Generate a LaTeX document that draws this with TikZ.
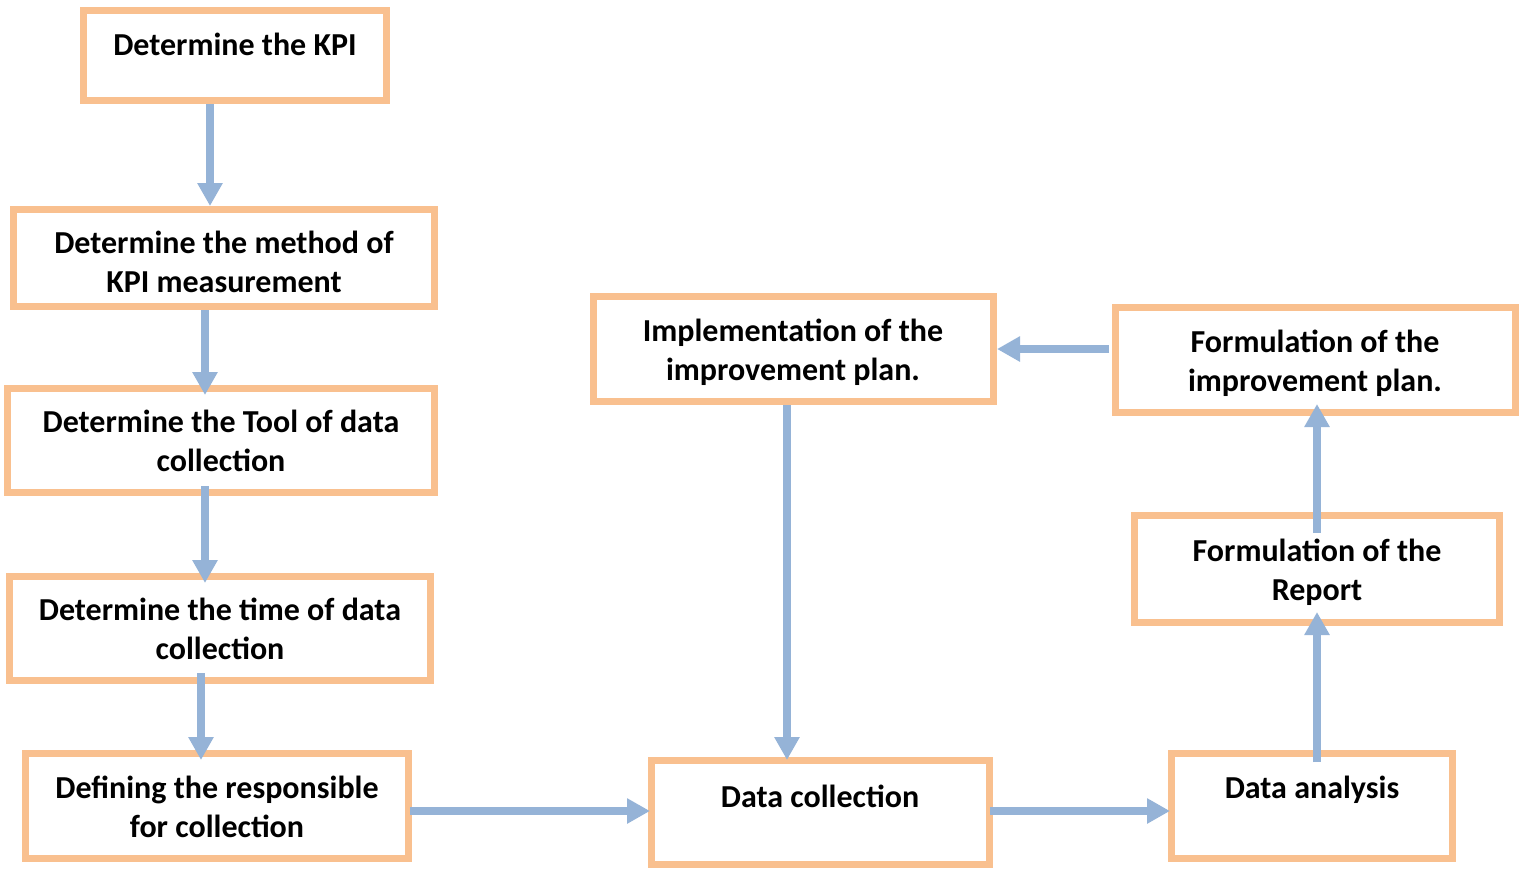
\documentclass[tikz,border=0pt]{standalone}
\usepackage{fontspec}
\setmainfont{Carlito}
\usetikzlibrary{arrows.meta}
\definecolor{boxorange}{HTML}{F9C08F}
\definecolor{arrowblue}{HTML}{95B3D7}
\begin{document}
\begin{tikzpicture}[x=1pt,y=-1pt,
  box/.style={draw=boxorange, line width=7pt, fill=white, inner sep=0pt},
  lbl/.style={font=\fontsize{32}{39}\selectfont\bfseries, align=center, inner sep=0pt},
  arr/.style={draw=arrowblue, line width=8pt, -{Triangle[length=23pt,width=24pt]}}]
\useasboundingbox (0,0) rectangle (1524,868);

% boxes (sizes measured on the border centre line)
\node[box, minimum width=303pt, minimum height=90pt]  (kpi)    at (235,55.5)   {};
\node[box, minimum width=421pt, minimum height=97pt]  (method) at (224,258)    {};
\node[box, minimum width=427pt, minimum height=104pt] (tool)   at (221,440.5)  {};
\node[box, minimum width=421pt, minimum height=104pt] (time)   at (220,628.5)  {};
\node[box, minimum width=383pt, minimum height=105pt] (resp)   at (217,806)    {};
\node[box, minimum width=400pt, minimum height=105pt] (impl)   at (793.5,349)  {};
\node[box, minimum width=400pt, minimum height=105pt] (impr)   at (1315.5,360) {};
\node[box, minimum width=365pt, minimum height=107pt] (rep)    at (1317,569)   {};
\node[box, minimum width=338pt, minimum height=104pt] (dc)     at (820.5,812.5){};
\node[box, minimum width=281pt, minimum height=105pt] (da)     at (1312,806)   {};

% box texts
\node[lbl] (kpiT)    at (235,44)   {Determine the KPI};
\node[lbl] (methodT) at (224,262)  {Determine the method of\\KPI measurement};
\node[lbl] (toolT)   at (221,441)  {Determine the Tool of data\\collection};
\node[lbl] (timeT)   at (220,629)  {Determine the time of data\\collection};
\node[lbl] (respT)   at (217,807)  {Defining the responsible\\for collection};
\node[lbl] (implT)   at (793,352)  {Implementation of the\\improvement plan.};
\node[lbl] (imprT)   at (1315,363) {Formulation of the\\improvement plan.};
\node[lbl] (repT)    at (1317,572) {Formulation of the\\Report};
\node[lbl] (dcT)     at (820,796)  {Data collection};
\node[lbl] (daT)     at (1312,790) {Data analysis};

% connectors
\draw[arr] ([xshift=-25pt]kpi.south) -- ([xshift=-14pt]method.north);
\draw[arr] ([xshift=-19pt]method.south) -- ([xshift=-16pt,yshift=-10pt]tool.north);
\draw[arr] ([xshift=-16pt,yshift=10pt]tool.south) -- ([xshift=-15pt,yshift=-10pt]time.north);
\draw[arr] ([xshift=-19pt,yshift=11pt]time.south) -- ([xshift=-16pt,yshift=-10pt]resp.north);
\draw[arr] ([xshift=-2pt,yshift=-5pt]resp.east) -- ([xshift=2pt,yshift=1.5pt]dc.west);
\draw[arr] ([xshift=-3pt,yshift=1.5pt]dc.east) -- ([xshift=2pt,yshift=-5pt]da.west);
\draw[arr] ([xshift=5pt,yshift=-12pt]da.north) -- ([yshift=14pt]rep.south);
\draw[arr] ([yshift=-21pt]rep.north) -- ([xshift=1.5pt,yshift=12pt]impr.south);
\draw[arr] ([xshift=-3pt,yshift=11pt]impr.west) -- (impl.east);
\draw[arr] ([xshift=-6.5pt]impl.south) -- ([xshift=-33.5pt,yshift=-3pt]dc.north);
\end{tikzpicture}
\end{document}
